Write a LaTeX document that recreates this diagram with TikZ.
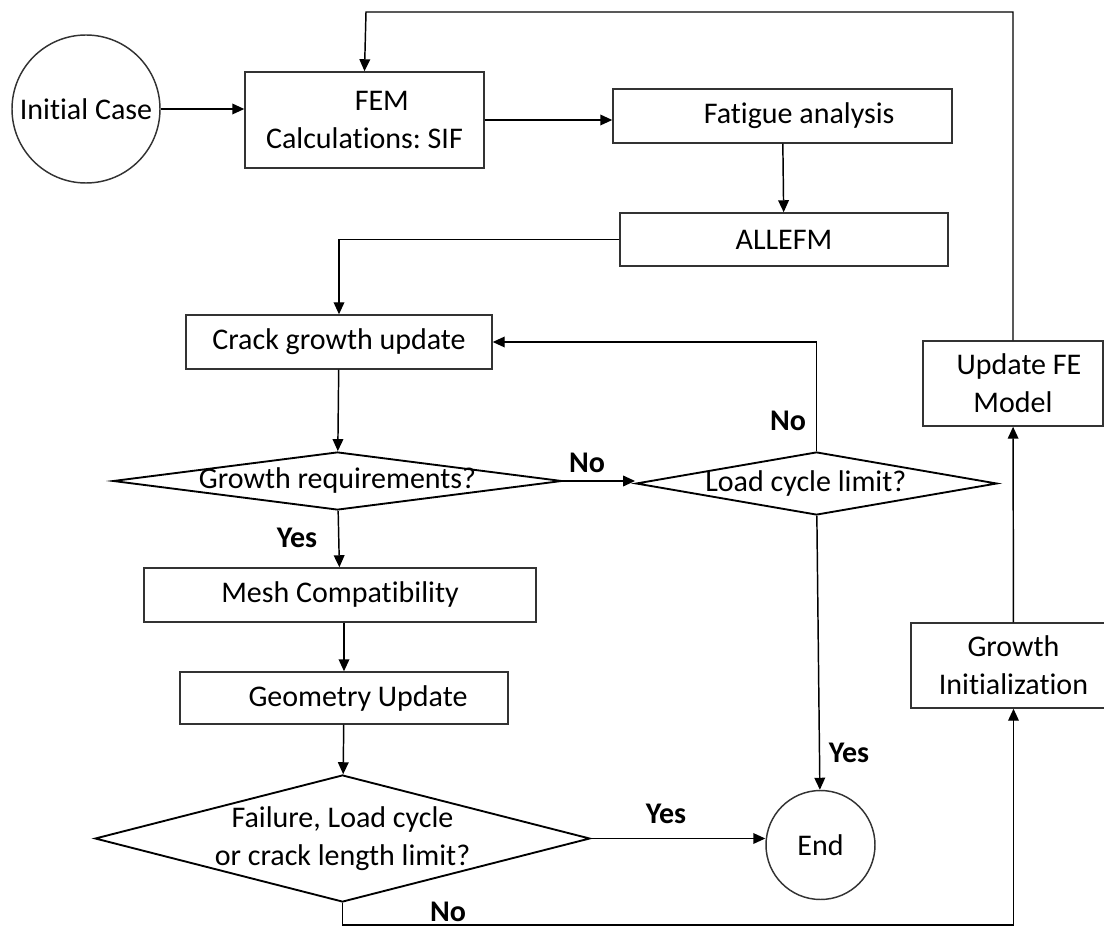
\documentclass[tikz,border=0pt]{standalone}
\usepackage{fontspec}
\setmainfont{Carlito}[Ligatures=NoCommon]
\frenchspacing
\usetikzlibrary{arrows.meta, shapes.geometric}

\begin{document}
\begin{tikzpicture}[
    x=0.75pt, y=-0.75pt,% one unit = one pixel, y pointing down
    font=\fontsize{22.5}{28.5}\selectfont,
    >={Triangle[length=9pt,width=8pt]},
    line width=1.1pt,
       box/.style = {draw=black!80, rectangle, align=center, inner sep=2pt},% process steps
      term/.style = {draw=black!80, circle, inner sep=0pt},% start / end
  decision/.style = {draw, diamond, inner sep=0pt, line width=1.4pt},% questions
       lbl/.style = {font=\fontsize{22.5}{28.5}\selectfont\bfseries}% yes / no
    ]
    \useasboundingbox (0,0) rectangle (1104,927);

    \node (init) [term, minimum size=111pt] at (86,109) {Initial Case};
    \node (fem) [box, minimum width=179.25pt, minimum height=72pt] at (364.5,120) {\hspace*{26pt}FEM\\Calculations: SIF};
    \node (fatigue) [box, minimum width=254.25pt, minimum height=40.5pt] at (782.5,116) {\hspace*{25pt}Fatigue analysis};
    \node (allefm) [box, minimum width=246pt, minimum height=39.75pt] at (784,239.5) {ALLEFM};
    \node (crack) [box, minimum width=229.5pt, minimum height=40.5pt] at (339,342) {Crack growth update};
    \node (growreq) [decision, minimum width=336.75pt, minimum height=43.5pt] at (337.5,481) {\makebox[0pt]{Growth requirements?}};
    \node (loadlim) [decision, minimum width=270.75pt, minimum height=47.25pt] at (816.5,483.5) {\makebox[0pt]{Load cycle limit?\hspace*{16pt}}};
    \node (mesh) [box, minimum width=294pt, minimum height=40.5pt] at (340,595) {Mesh Compatibility};
    \node (geom) [box, minimum width=246pt, minimum height=39pt] at (344,698) {\hspace*{21pt}Geometry Update};
    \node (fail) [decision, minimum width=371.25pt, minimum height=95.25pt] at (342.5,838.5)
        {\makebox[0pt]{\begin{tabular}{@{}c@{}}Failure, Load cycle\\or crack length limit?\end{tabular}}};
    \node (done) [term, minimum size=81.75pt] at (820.5,845) {End};
    \node (updfe) [box, minimum width=135pt, minimum height=63.75pt] at (1013,383.5) {\hspace*{9pt}Update FE\\Model};
    \node (ginit) [box, minimum width=153.75pt, minimum height=63.75pt] at (1013.5,665.5) {Growth\\Initialization};

    \coordinate (top) at (366,12);
    \coordinate (bottom) at (342.5,925);

    \draw[->] (init.east) -- (init.east -| fem.west);
    \draw[->] (fem.east) -- (fem.east -| fatigue.west);
    \draw[->] (fatigue) -- (allefm);
    \draw[->] (allefm.west) -| (crack.north);
    \draw[->] (crack) -- (growreq);
    \draw[->] (growreq) -- (mesh);
    \draw[->] (growreq.east) -- (growreq.east -| loadlim.west);
    \draw[->] (loadlim.north) |- (crack.east);
    \draw[->] (loadlim) -- (done);
    \draw[->] (geom.north |- mesh.south) -- (geom.north);
    \draw[->] (geom) -- (fail);
    \draw[->] (fail.east) -- (fail.east -| done.west);
    \draw[->] (fail.south) -- (bottom) -| (ginit.south);
    \draw[->] (ginit) -- (updfe);
    \draw[->] (updfe.north) |- (top) -- (fem.north);

    \node[lbl] (yes1) at (297,538) {Yes};
    \node[lbl] (no1) at (587,463) {No};
    \node[lbl] (no2) at (788,421) {No};
    \node[lbl] (yes2) at (849,753) {Yes};
    \node[lbl] (yes3) at (666,814) {Yes};
    \node[lbl] (no3) at (448,912) {No};
\end{tikzpicture}
\end{document}
